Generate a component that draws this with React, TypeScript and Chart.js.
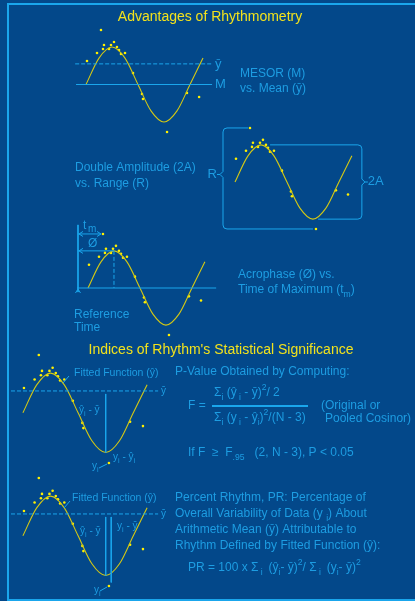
import React, { useEffect, useRef } from "react";
import { Chart, registerables } from "chart.js";

Chart.register(...registerables);

const W = 415;
const H = 601;

// Fitted cosine (time in hours, value in arbitrary units)
const fitTimes = [0, 3, 6, 9, 12, 15, 18, 21, 24, 27];
const fitValues = [100, 114.1, 120, 114.1, 100, 85.9, 80, 85.9, 100, 114.1];

// Observed data points
const obsTimes = [3.46, 0.23, 2.54, 4.15, 3.92, 5.31, 5.77, 6.46, 7.15, 7.62, 8.08, 9.0, 10.85, 12.92, 13.15, 18.7, 23.3, 26.1];
const obsValues = [129.1, 112.5, 116.8, 121.1, 118.9, 118.9, 121.1, 122.7, 120.0, 118.4, 116.3, 116.8, 106.1, 94.9, 92.3, 74.7, 95.5, 93.3];

const mesor = 100;
const meanValue = 111;
const acrophase = 6;
const troughTime = 18;
const fitMax = 120;
const fitMin = 80;

const BG = "#03488a";
const LINE = "#1aa6ec";
const TEXT = "#1d9de2";
const YEL = "#f2e21c";
const CURVE = "#d4c814";
const DOT = "#fff000";
const FONT = '"Liberation Sans", Arial, Helvetica, sans-serif';

// panel layout: pixel of t=0, px per hour, pixel of mesor, px per unit
const layout = [
  { x0: 86, k: 4.333, c: 84.5, ppu: 1.875 },
  { x0: 235, k: 4.33, c: 182, ppu: 1.857 },
  { x0: 88, k: 4.33, c: 288, ppu: 1.857 },
  { x0: 22.9, k: 4.6, c: 412.8, ppu: 1.985 },
  { x0: 22.9, k: 4.6, c: 535.8, ppu: 1.985 },
];

type Seg = [string, string];

function drawRich(ctx: any, x: number, y: number, segs: Seg[], size: number, color: string, align = "left") {
  const items = segs.map(([t, m]) => {
    const s = m === "n" ? size : size * 0.72;
    ctx.font = `${s}px ${FONT}`;
    return { t, m, s, w: ctx.measureText(t).width };
  });
  const total = items.reduce((a, b) => a + b.w, 0);
  let cx = align === "center" ? x - total / 2 : align === "right" ? x - total : x;
  ctx.fillStyle = color;
  ctx.textBaseline = "middle";
  ctx.textAlign = "left";
  for (const it of items) {
    ctx.font = `${it.s}px ${FONT}`;
    const dy = it.m === "b" ? size * 0.38 : it.m === "p" ? -size * 0.42 : 0;
    ctx.fillText(it.t, cx, y + dy);
    cx += it.w;
  }
}

function txt(ctx: any, x: number, y: number, s: string, size: number, color = TEXT, align = "left") {
  drawRich(ctx, x, y, [[s, "n"]], size, color, align);
}

function seg(ctx: any, x1: number, y1: number, x2: number, y2: number) {
  ctx.beginPath();
  ctx.moveTo(x1, y1);
  ctx.lineTo(x2, y2);
  ctx.stroke();
}

function head(ctx: any, x: number, y: number, dir: string) {
  const a = 4, b = 2.5;
  ctx.beginPath();
  if (dir === "left") { ctx.moveTo(x + a, y - b); ctx.lineTo(x, y); ctx.lineTo(x + a, y + b); }
  if (dir === "right") { ctx.moveTo(x - a, y - b); ctx.lineTo(x, y); ctx.lineTo(x - a, y + b); }
  if (dir === "up") { ctx.moveTo(x - b, y + a); ctx.lineTo(x, y); ctx.lineTo(x + b, y + a); }
  ctx.stroke();
}

function bracket(ctx: any, bx: number, yTop: number, yBot: number, xTop: number, xBot: number, side: string, midOff = 0) {
  const s = side === "left" ? 1 : -1;
  const r = 4;
  const mid = (yTop + yBot) / 2 + midOff;
  ctx.beginPath();
  ctx.moveTo(xTop, yTop);
  ctx.lineTo(bx + s * r, yTop);
  ctx.quadraticCurveTo(bx, yTop, bx, yTop + r);
  ctx.lineTo(bx, mid - 3);
  ctx.lineTo(bx - s * 3, mid);
  ctx.lineTo(bx, mid + 3);
  ctx.lineTo(bx, yBot - r);
  ctx.quadraticCurveTo(bx, yBot, bx + s * r, yBot);
  ctx.lineTo(xBot, yBot);
  ctx.stroke();
  return mid;
}

const artPlugin = {
  id: "art",
  beforeDraw(chart: any) {
    const ctx = chart.ctx;
    ctx.save();
    ctx.fillStyle = BG;
    ctx.fillRect(0, 0, W, H);
    ctx.restore();
  },
  afterDatasetsDraw(chart: any) {
    const ctx = chart.ctx;
    const px = (i: number, t: number) => chart.scales["x" + i].getPixelForValue(t);
    const py = (i: number, v: number) => chart.scales["y" + i].getPixelForValue(v);
    const maxObs = Math.max(...obsValues);
    const minObs = Math.min(...obsValues);
    const tMax = obsTimes[obsValues.indexOf(maxObs)];
    const tMin = obsTimes[obsValues.indexOf(minObs)];
    ctx.save();
    ctx.strokeStyle = LINE;
    ctx.lineWidth = 1;
    ctx.lineJoin = "round";

    // frame
    ctx.lineWidth = 2;
    seg(ctx, 8, 3, 8, 601);
    seg(ctx, 7, 4, 415, 4);
    seg(ctx, 7, 600, 415, 600);
    ctx.lineWidth = 1;

    // Panel 2 brackets: range R and double amplitude 2A
    const rMid = bracket(ctx, px(2, -2.77), py(2, maxObs), py(2, minObs), px(2, tMax - 0.45), px(2, tMin - 0.7), "left", -4);
    seg(ctx, px(2, -2.77) - 3, rMid, px(2, -2.77) - 6, rMid);
    txt(ctx, px(2, -2.77) - 6, rMid, "R", 13, TEXT, "right");
    const aMid = bracket(ctx, px(2, 29.3), py(2, fitMax), py(2, fitMin), px(2, 8.1), px(2, 19.2), "right");
    seg(ctx, px(2, 29.3) + 3, aMid, px(2, 29.3) + 6, aMid);
    txt(ctx, px(2, 29.3) + 6, aMid - 1, "2A", 13);

    // Panel 3 arrows
    const ref = -2.31;
    head(ctx, px(3, ref) + 1, py(3, maxObs), "left");
    head(ctx, px(3, tMax - 0.45), py(3, maxObs), "right");
    head(ctx, px(3, ref) + 1, py(3, fitMax), "left");
    head(ctx, px(3, ref), py(3, mesor) + 1, "up");

    // leaders
    seg(ctx, 69, 376, 63, 383);
    seg(ctx, 99, 468, 107, 464);
    seg(ctx, 70, 501, 64, 508);
    seg(ctx, 100, 591, 107, 587);

    // fraction bar
    ctx.lineWidth = 2;
    seg(ctx, 212, 406, 308, 406);
    ctx.lineWidth = 1;

    // texts
    txt(ctx, 210, 17, "Advantages of Rhythmometry", 14, YEL, "center");
    txt(ctx, 215, 64, "ȳ", 13);
    txt(ctx, 215, 84, "M", 13);
    txt(ctx, 240, 74, "MESOR (M)", 12);
    txt(ctx, 240, 89, "vs. Mean (ȳ)", 12);

    txt(ctx, 75, 168, "Double Amplitude (2A)", 12);
    txt(ctx, 75, 184, "vs. Range (R)", 12);

    txt(ctx, 83, 226, "t", 12);
    txt(ctx, 88, 229, "m", 10);
    txt(ctx, 88, 244, "Ø", 12);
    txt(ctx, 238, 275, "Acrophase (Ø) vs.", 12);
    drawRich(ctx, 238, 290, [["Time of Maximum (t", "n"], ["m", "b"], [")", "n"]], 12, TEXT);
    txt(ctx, 74, 315, "Reference", 12);
    txt(ctx, 74, 328, "Time", 12);

    txt(ctx, 221, 350, "Indices of Rhythm's Statistical Significance", 14, YEL, "center");

    txt(ctx, 74, 373, "Fitted Function (ŷ)", 10.5);
    txt(ctx, 161, 391, "ȳ", 10);
    drawRich(ctx, 79, 410, [["ŷ", "n"], ["i", "b"], [" - ȳ", "n"]], 10, TEXT);
    drawRich(ctx, 113, 457, [["y", "n"], ["i", "b"], [" - ŷ", "n"], ["i", "b"]], 10, TEXT);
    drawRich(ctx, 92, 466, [["y", "n"], ["i", "b"]], 10, TEXT);

    txt(ctx, 175, 372, "P-Value Obtained by Computing:", 12);
    txt(ctx, 188, 406, "F =", 12);
    drawRich(ctx, 214, 393, [["Σ", "n"], ["i", "b"], [" (ŷ", "n"], [" i", "b"], [" - ȳ)", "n"], ["2", "p"], ["/ 2", "n"]], 12, TEXT);
    drawRich(ctx, 214, 418, [["Σ", "n"], ["i", "b"], [" (y", "n"], [" i", "b"], [" - ŷ", "n"], ["i", "b"], [")", "n"], ["2", "p"], ["/(N - 3)", "n"]], 12, TEXT);
    txt(ctx, 321, 406, "(Original or", 12);
    txt(ctx, 325, 419, "Pooled Cosinor)", 12);
    drawRich(ctx, 188, 453, [["If F  ≥  F", "n"], [".95", "b"], ["   (2, N - 3), P < 0.05", "n"]], 12, TEXT);

    txt(ctx, 72, 498, "Fitted Function (ŷ)", 10.5);
    txt(ctx, 161, 514, "ȳ", 10);
    drawRich(ctx, 80, 531, [["ŷ", "n"], ["i", "b"], [" - ȳ", "n"]], 10, TEXT);
    drawRich(ctx, 117, 526, [["y", "n"], ["i", "b"], [" - ȳ", "n"]], 10, TEXT);
    drawRich(ctx, 94, 590, [["y", "n"], ["i", "b"]], 10, TEXT);

    txt(ctx, 175, 498, "Percent Rhythm, PR: Percentage of", 12);
    drawRich(ctx, 175, 514, [["Overall Variability of Data (y ", "n"], ["i", "b"], [") About", "n"]], 12, TEXT);
    txt(ctx, 175, 530, "Arithmetic Mean (ȳ) Attributable to", 12);
    txt(ctx, 175, 546, "Rhythm Defined by Fitted Function (ŷ):", 12);
    drawRich(ctx, 188, 568, [["PR = 100 x Σ", "n"], [" i ", "b"], [" (ŷ", "n"], ["i", "b"], ["- ȳ)", "n"], ["2", "p"], ["/ Σ", "n"], [" i ", "b"], [" (y", "n"], ["i", "b"], ["- ȳ)", "n"], ["2", "p"]], 12, TEXT);

    ctx.restore();
  },
};

function buildConfig(): any {
  const datasets: any[] = [];
  const L = (i: number, pts: number[][], extra: any = {}) =>
    datasets.push({
      type: "line",
      data: pts.map(([x, y]) => ({ x, y })),
      xAxisID: "x" + i,
      yAxisID: "y" + i,
      borderColor: LINE,
      borderWidth: 1,
      pointRadius: 0,
      showLine: true,
      tension: 0,
      fill: false,
      ...extra,
    });
  const dash = { borderDash: [4, 2] };
  const maxObs = Math.max(...obsValues);
  const tMax = obsTimes[obsValues.indexOf(maxObs)];
  const ref = -2.31;

  // panel 1: MESOR vs mean
  L(1, [[-2.3, mesor], [29.1, mesor]]);
  L(1, [[-2.5, meanValue], [29.1, meanValue]], dash);
  // panel 3: acrophase
  L(3, [[-2.54, mesor], [29.6, mesor]]);
  L(3, [[ref, 134], [ref, 97.8]]);
  L(3, [[acrophase, fitMax], [acrophase, mesor]], dash);
  L(3, [[ref, maxObs], [tMax - 0.45, maxObs]]);
  L(3, [[ref, fitMax], [acrophase, fitMax]]);
  // panel 4
  L(4, [[-2.59, meanValue], [29.4, meanValue]], dash);
  L(4, [[troughTime, 109.5], [troughTime, fitMin]]);
  // panel 5
  L(5, [[-2.59, meanValue], [29.4, meanValue]], dash);
  L(5, [[troughTime, 109.5], [troughTime, fitMin]]);
  L(5, [[19.2, 109.5], [19.2, 76.5]]);

  const scales: any = {
    x: { type: "linear", display: false },
    y: { type: "linear", display: false },
  };
  layout.forEach((p, idx) => {
    const i = idx + 1;
    scales["x" + i] = { type: "linear", axis: "x", position: "bottom", display: false, min: (0 - p.x0) / p.k, max: (W - p.x0) / p.k };
    scales["y" + i] = { type: "linear", axis: "y", position: "left", display: false, min: mesor - (H - p.c) / p.ppu, max: mesor + p.c / p.ppu };
    datasets.push({
      type: "line",
      data: fitTimes.map((t, j) => ({ x: t, y: fitValues[j] })),
      xAxisID: "x" + i,
      yAxisID: "y" + i,
      borderColor: CURVE,
      borderWidth: 1.1,
      pointRadius: 0,
      showLine: true,
      fill: false,
      cubicInterpolationMode: "monotone",
    });
    datasets.push({
      type: "line",
      data: obsTimes.map((t, j) => ({ x: t, y: obsValues[j] })),
      xAxisID: "x" + i,
      yAxisID: "y" + i,
      showLine: false,
      pointRadius: 1.3,
      pointBorderWidth: 0,
      pointBackgroundColor: DOT,
      backgroundColor: DOT,
      borderColor: DOT,
    });
  });

  return {
    type: "line",
    data: { datasets },
    options: {
      animation: false,
      responsive: false,
      devicePixelRatio: 1,
      events: [],
      layout: { padding: 0, autoPadding: false },
      plugins: { legend: { display: false }, tooltip: { enabled: false }, title: { display: false } },
      scales,
    },
    plugins: [artPlugin],
  };
}

export default function App() {
  const ref = useRef<HTMLCanvasElement>(null);
  useEffect(() => {
    const chart = new Chart(ref.current as HTMLCanvasElement, buildConfig());
    return () => chart.destroy();
  }, []);
  return (
    <div style={{ position: "fixed", left: 0, top: 0, width: W, height: H, background: BG, overflow: "hidden" }}>
      <canvas ref={ref} width={W} height={H} style={{ display: "block", width: W, height: H }} />
    </div>
  );
}
